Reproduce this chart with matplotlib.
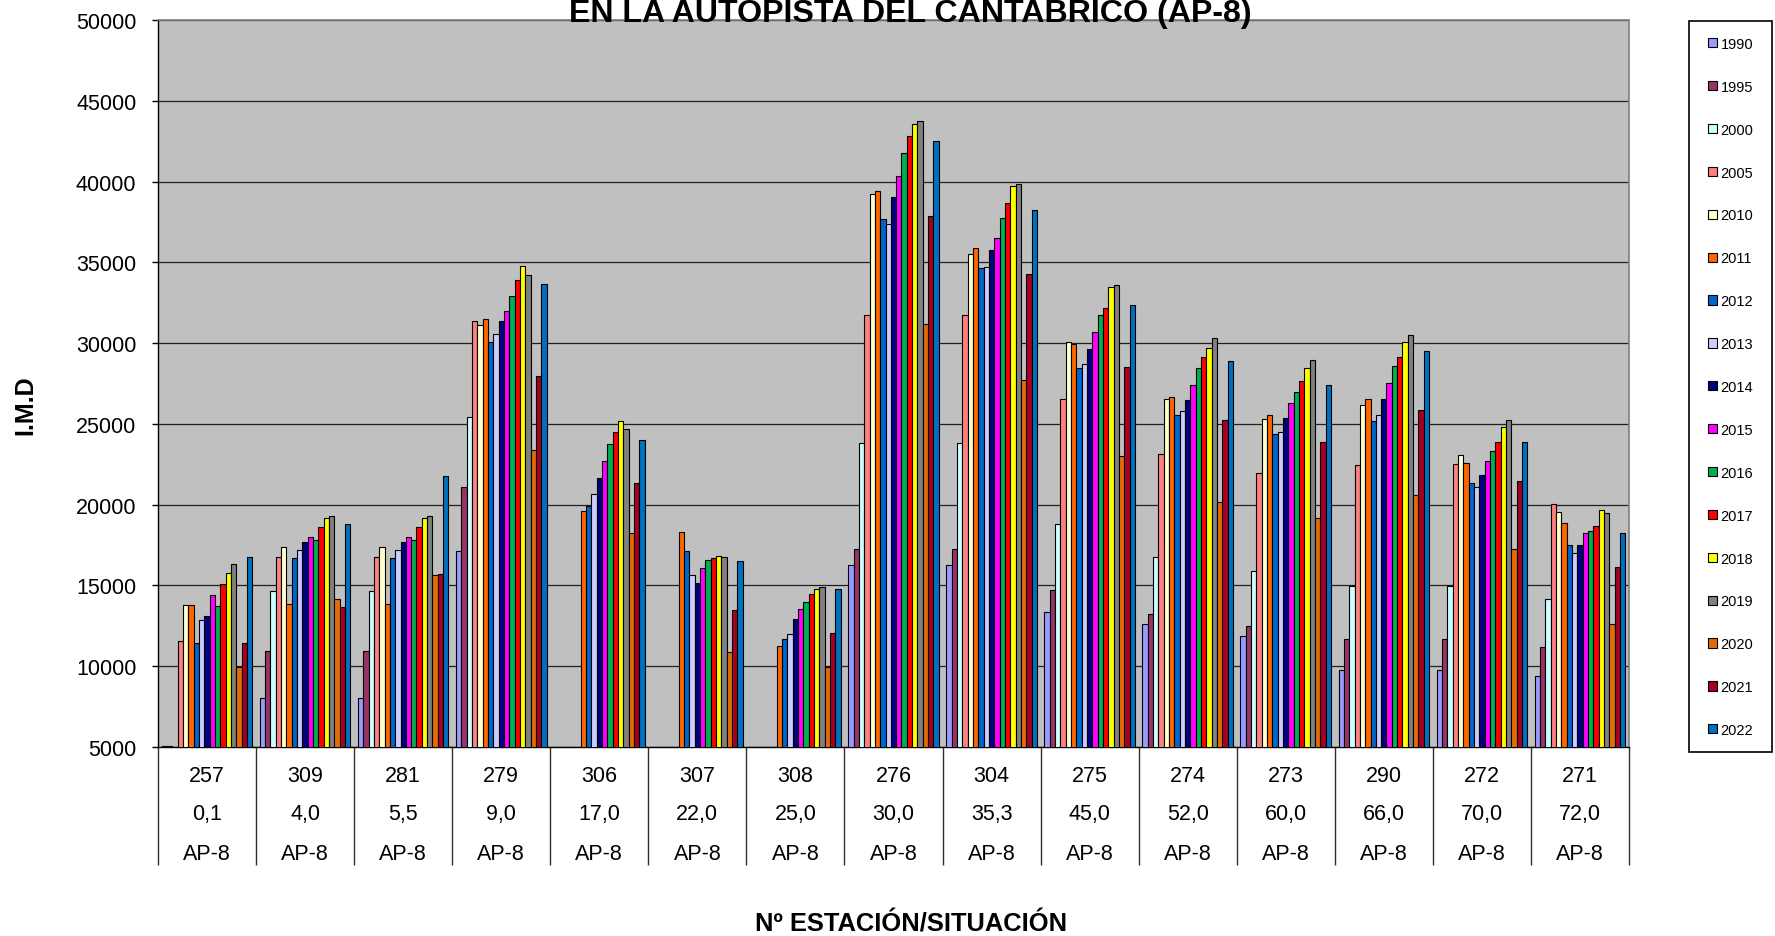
import numpy as np
import matplotlib
matplotlib.use("Agg")
import matplotlib.pyplot as plt
from matplotlib.patches import Rectangle
import matplotlib.transforms as mtransforms

plt.rcParams['font.family'] = ['Liberation Sans', 'DejaVu Sans']

nan = np.nan
stations = ["257", "309", "281", "279", "306", "307", "308", "276", "304", "275", "274", "273", "290", "272", "271"]
pks = ["0,1", "4,0", "5,5", "9,0", "17,0", "22,0", "25,0", "30,0", "35,3", "45,0", "52,0", "60,0", "66,0", "70,0", "72,0"]
roads = ["AP-8"] * 15
years = ["1990", "1995", "2000", "2005", "2010", "2011", "2012", "2013", "2014", "2015",
         "2016", "2017", "2018", "2019", "2020", "2021", "2022"]

imd_1990 = [5060, 8030, 8030, 17150, nan, nan, nan, 16250, 16250, 13370, 12620, 11870, 9740, 9740, 9380]
imd_1995 = [5060, 10970, 10970, 21110, nan, nan, nan, 17270, 17270, 14720, 13220, 12470, 11690, 11690, 11180]
imd_2000 = [nan, 14660, 14660, 25430, nan, nan, nan, 23810, 23810, 18800, 16760, 15920, 14990, 14990, 14180]
imd_2005 = [11570, 16730, 16730, 31370, nan, nan, nan, 31760, 31760, 26510, 23150, 21980, 22460, 22520, 20030]
imd_2010 = [13790, 17360, 17360, 31100, nan, nan, nan, 39230, 35510, 30050, 26510, 25310, 26180, 23060, 19550]
imd_2011 = [13760, 13850, 13850, 31490, 19610, 18290, 11270, 39410, 35900, 29960, 26660, 25550, 26540, 22550, 18890]
imd_2012 = [11420, 16700, 16700, 30050, 19910, 17150, 11660, 37670, 34670, 28460, 25520, 24380, 25190, 21320, 17510]
imd_2013 = [12860, 17180, 17180, 30560, 20660, 15620, 12020, 37400, 34730, 28700, 25820, 24470, 25550, 21110, 17030]
imd_2014 = [13130, 17720, 17720, 31340, 21680, 15170, 12920, 39020, 35750, 29660, 26480, 25370, 26510, 21830, 17510]
imd_2015 = [14420, 18020, 18020, 31970, 22700, 16070, 13550, 40370, 36530, 30680, 27380, 26270, 27560, 22730, 18260]
imd_2016 = [13700, 17810, 17810, 32930, 23750, 16550, 14000, 41780, 37730, 31730, 28430, 26960, 28580, 23330, 18380]
imd_2017 = [15080, 18590, 18590, 33920, 24470, 16700, 14480, 42830, 38690, 32180, 29120, 27650, 29120, 23870, 18650]
imd_2018 = [15740, 19160, 19160, 34790, 25160, 16820, 14810, 43550, 39710, 33470, 29690, 28490, 30080, 24800, 19670]
imd_2019 = [16310, 19280, 19280, 34190, 24710, 16760, 14930, 43760, 39860, 33590, 30320, 28940, 30530, 25220, 19490]
imd_2020 = [9950, 14180, 15620, 23360, 18260, 10850, 9950, 31160, 27710, 23000, 20180, 19160, 20600, 17270, 12620]
imd_2021 = [11420, 13670, 15680, 27950, 21350, 13490, 12050, 37880, 34280, 28520, 25220, 23900, 25850, 21440, 16130]
imd_2022 = [16730, 18800, 21800, 33650, 24020, 16520, 14750, 42530, 38210, 32330, 28910, 27380, 29510, 23870, 18260]

series = [imd_1990, imd_1995, imd_2000, imd_2005, imd_2010, imd_2011, imd_2012, imd_2013, imd_2014,
          imd_2015, imd_2016, imd_2017, imd_2018, imd_2019, imd_2020, imd_2021, imd_2022]
colors = ["#9999FF", "#993366", "#CCFFFF", "#FF8080", "#FFFFCC", "#FF6600", "#0066CC", "#CCCCFF",
          "#000080", "#FF00FF", "#00B050", "#FF0000", "#FFFF00", "#808080", "#E36C09", "#A50021", "#0070C0"]

W, H = 1775, 937
fig = plt.figure(figsize=(W / 100, H / 100), dpi=100)
x0, x1, y0, y1 = 158, 1629, 21, 748
ax = fig.add_axes([x0 / W, 1 - y1 / H, (x1 - x0) / W, (y1 - y0) / H])
ax.set_facecolor("#C0C0C0")

n = len(series)
w = 1 / 18.4
idx = np.arange(len(stations))
handles = []
for j, (vals, col) in enumerate(zip(series, colors)):
    b = ax.bar(idx + (j - (n - 1) / 2) * w, vals, width=w, color=col,
               edgecolor="black", linewidth=0.8, zorder=3)
    handles.append(b)

ax.set_xlim(-0.5, len(stations) - 0.5)
ax.set_ylim(5000, 50000)
ax.set_yticks(np.arange(5000, 50001, 5000))
ax.tick_params(axis='y', labelsize=15.5, length=4.5, width=1, direction='out', pad=11, colors='black')
ax.yaxis.grid(True, color='#202020', linewidth=0.9, zorder=1)
ax.set_axisbelow(True)

ax.set_xticks(idx)
ax.tick_params(axis='x', which='major', length=0, labelbottom=False)
ax.set_xticks(np.arange(-0.5, len(stations)), minor=True)
ax.tick_params(axis='x', which='minor', length=85, width=1, color='#303030', direction='out')

for s in ['left', 'bottom']:
    ax.spines[s].set_color('black')
    ax.spines[s].set_linewidth(1)
for s in ['top', 'right']:
    ax.spines[s].set_color('#808080')
    ax.spines[s].set_linewidth(1.2)

trans = mtransforms.blended_transform_factory(ax.transData, ax.transAxes)
axh = y1 - y0
for i in idx:
    for lab, off in zip([stations[i], pks[i], roads[i]], [29, 67, 107]):
        ax.text(i, -off / axh, lab, transform=trans, ha='center', va='center', fontsize=15.5)

fig.text(910 / W, 1 - 22 / H, "EN LA AUTOPISTA DEL CANTABRICO (AP-8)", ha='center', va='baseline',
         fontsize=23.1, weight='bold')
fig.text(25 / W, 1 - 405 / H, "I.M.D", rotation=90, ha='center', va='center', fontsize=18, weight='bold')
fig.text(911 / W, 1 - 925 / H, "Nº ESTACIÓN/SITUACIÓN", ha='center', va='center', fontsize=18.4, weight='bold')

# legend frame
fig.patches.append(Rectangle((1689 / W, 1 - 753 / H), 83 / W, (753 - 22) / H, transform=fig.transFigure,
                             facecolor='white', edgecolor='black', linewidth=1.2, zorder=0))
leg = fig.legend(handles, years, loc='upper left', bbox_to_anchor=(1708 / W, 1 - 38 / H),
                 frameon=False, fontsize=10.5, labelspacing=1.98, handlelength=0.6, handleheight=0.6,
                 handletextpad=0.25, borderpad=0, borderaxespad=0)

fig.savefig("out.png", dpi=100, facecolor='white')
